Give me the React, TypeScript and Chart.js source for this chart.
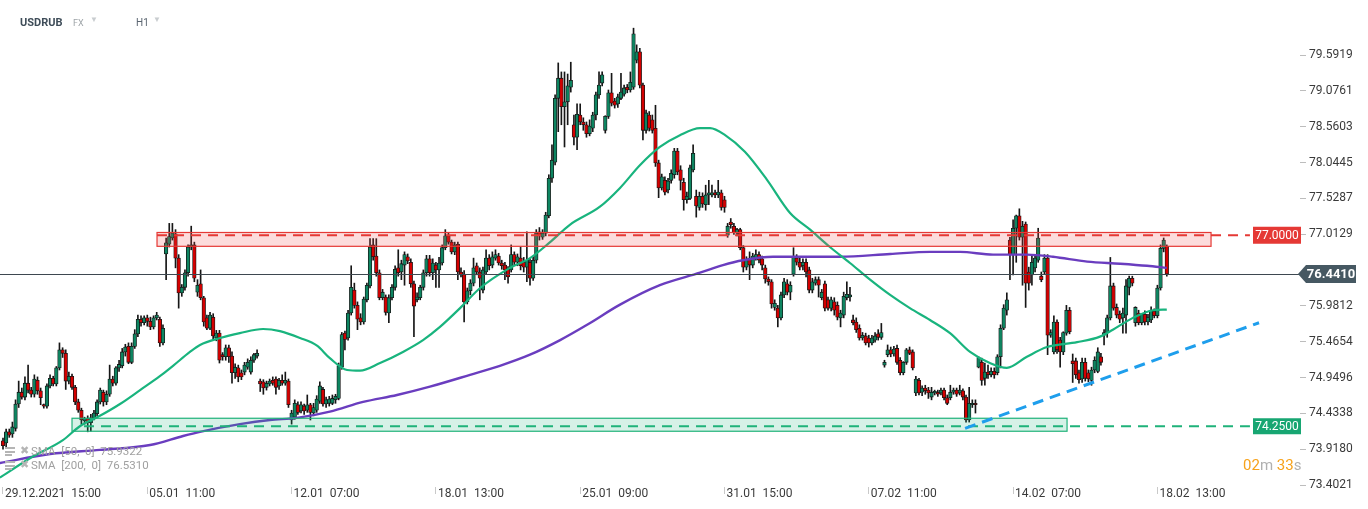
import React, { useEffect, useRef } from "react";
import { Chart, registerables } from "chart.js";

Chart.register(...registerables);

// [open, high, low, close] — H1 candles, 10 per trading day
type Candle = [number, number, number, number];

const week1: Candle[] = [
  [74.04, 74.08, 73.92, 73.97], [74.01, 74.21, 73.95, 74.17], [74.17, 74.21, 74.09, 74.12], [74.14, 74.31, 74.09, 74.24],
  [74.22, 74.63, 74.18, 74.57], [74.57, 74.90, 74.52, 74.74], [74.74, 74.80, 74.64, 74.67], [74.67, 74.96, 74.63, 74.87],
  [74.87, 75.13, 74.73, 74.77], [74.77, 74.81, 74.67, 74.71], [74.71, 74.99, 74.67, 74.93], [74.91, 74.96, 74.71, 74.76],
  [74.76, 74.80, 74.56, 74.66], [74.56, 74.57, 74.51, 74.54], [74.54, 74.86, 74.51, 74.83], [74.83, 74.99, 74.80, 74.94],
  [74.94, 74.97, 74.83, 74.86], [74.86, 75.11, 74.83, 75.09], [75.09, 75.45, 75.06, 75.35], [75.35, 75.38, 75.24, 75.30],
  [75.30, 75.35, 74.78, 74.90], [74.90, 75.03, 74.86, 74.97], [74.97, 75.00, 74.78, 74.81], [74.81, 74.84, 74.56, 74.60],
  [74.60, 74.64, 74.45, 74.48], [74.48, 74.51, 74.28, 74.34], [74.33, 74.38, 74.28, 74.36], [74.36, 74.40, 74.17, 74.30],
  [74.30, 74.42, 74.18, 74.37], [74.37, 74.48, 74.34, 74.44], [74.43, 74.63, 74.40, 74.60], [74.60, 74.80, 74.57, 74.77],
  [74.74, 74.77, 74.54, 74.60], [74.60, 74.76, 74.56, 74.71], [74.71, 75.13, 74.68, 74.93], [74.93, 74.97, 74.83, 74.87],
  [74.87, 75.11, 74.84, 75.09], [75.09, 75.20, 75.04, 75.14], [75.12, 75.37, 75.09, 75.32], [75.32, 75.43, 75.26, 75.39],
  [75.40, 75.45, 75.15, 75.17], [75.17, 75.45, 75.15, 75.40], [75.40, 75.64, 75.37, 75.58], [75.58, 75.85, 75.54, 75.79],
  [75.79, 75.84, 75.69, 75.74], [75.74, 75.84, 75.71, 75.81],
];

const week2: Candle[] = [
  [75.81, 75.85, 75.69, 75.76], [75.76, 75.82, 75.64, 75.68], [75.68, 75.84, 75.65, 75.81], [75.81, 75.89, 75.78, 75.85],
  [75.79, 75.82, 75.40, 75.45], [75.45, 75.71, 75.42, 75.66], [76.73, 76.96, 76.36, 76.89], [76.87, 77.17, 76.83, 76.98],
  [76.96, 77.17, 76.93, 77.03], [77.02, 77.08, 76.53, 76.67], [76.67, 76.72, 75.95, 76.17], [76.17, 76.29, 76.12, 76.25],
  [76.25, 76.50, 76.21, 76.46], [76.46, 76.86, 76.41, 76.83], [76.83, 77.13, 76.79, 76.86], [76.86, 76.90, 76.33, 76.38],
  [76.18, 76.36, 76.12, 76.28], [76.30, 76.50, 76.07, 76.10], [76.10, 76.12, 75.69, 75.75], [75.81, 75.85, 75.64, 75.66],
  [75.66, 75.89, 75.64, 75.85], [75.82, 75.87, 75.49, 75.55], [75.52, 75.63, 75.48, 75.59], [75.59, 75.63, 75.16, 75.20],
  [75.28, 75.31, 75.20, 75.25], [75.25, 75.42, 75.20, 75.38], [75.38, 75.42, 75.17, 75.25], [75.26, 75.32, 74.87, 75.02],
  [75.02, 75.15, 74.94, 75.10], [75.09, 75.13, 74.89, 74.96], [75.02, 75.06, 74.92, 74.96], [75.03, 75.17, 74.99, 75.13],
  [75.10, 75.22, 75.07, 75.17], [75.03, 75.25, 75.00, 75.20], [75.20, 75.30, 75.17, 75.28], [75.26, 75.35, 75.23, 75.30],
  [74.90, 74.93, 74.75, 74.86], [74.89, 74.92, 74.71, 74.80], [74.81, 74.90, 74.77, 74.87], [74.86, 74.93, 74.83, 74.90],
  [74.91, 74.96, 74.84, 74.87], [74.93, 74.96, 74.71, 74.81], [74.83, 74.94, 74.78, 74.91], [74.91, 74.99, 74.84, 74.87],
  [74.87, 75.03, 74.84, 74.91], [74.90, 74.93, 74.52, 74.56],
];

const week3: Candle[] = [
  [74.34, 74.48, 74.28, 74.44], [74.38, 74.63, 74.35, 74.58], [74.56, 74.60, 74.42, 74.45], [74.47, 74.60, 74.44, 74.56],
  [74.54, 74.57, 74.42, 74.47], [74.48, 74.70, 74.45, 74.56], [74.56, 74.58, 74.34, 74.45], [74.44, 74.58, 74.40, 74.52],
  [74.48, 74.69, 74.45, 74.64], [74.61, 74.89, 74.58, 74.83], [74.78, 74.81, 74.54, 74.57], [74.57, 74.67, 74.52, 74.63],
  [74.58, 74.68, 74.54, 74.64], [74.58, 74.70, 74.56, 74.65], [74.63, 74.71, 74.58, 74.68], [74.65, 75.16, 74.63, 75.12],
  [75.10, 75.60, 75.07, 75.57], [75.59, 75.62, 75.35, 75.50], [75.52, 75.92, 75.49, 75.88], [75.88, 76.56, 75.85, 76.25],
  [76.21, 76.31, 75.95, 75.99], [75.99, 76.04, 75.64, 75.79], [75.81, 75.87, 75.71, 75.75], [75.75, 76.11, 75.72, 76.08],
  [76.07, 76.31, 76.04, 76.28], [76.27, 76.95, 76.24, 76.83], [76.86, 76.95, 76.64, 76.69], [76.70, 76.95, 76.41, 76.46],
  [76.46, 76.50, 76.07, 76.10], [76.10, 76.22, 76.07, 76.18], [76.11, 76.14, 75.85, 75.89], [75.88, 76.14, 75.74, 76.10],
  [76.10, 76.29, 76.07, 76.25], [76.25, 76.56, 76.21, 76.51], [76.53, 76.79, 76.41, 76.46], [76.47, 76.64, 76.36, 76.59],
  [76.57, 76.76, 76.28, 76.72], [76.69, 76.73, 76.59, 76.63], [76.61, 76.66, 76.25, 76.30], [76.30, 76.34, 75.54, 75.98],
  [76.07, 76.17, 76.04, 76.11], [76.10, 76.28, 76.07, 76.25], [76.25, 76.50, 76.21, 76.46], [76.46, 76.71, 76.41, 76.66],
  [76.66, 76.71, 76.41, 76.46], [76.46, 76.66, 76.36, 76.60],
];

const week4: Candle[] = [
  [76.57, 76.61, 76.25, 76.50], [76.50, 76.68, 76.25, 76.60], [76.60, 76.86, 76.57, 76.82], [76.82, 77.08, 76.79, 76.99],
  [76.99, 77.03, 76.87, 76.90], [76.90, 76.93, 76.73, 76.76], [76.76, 76.90, 76.72, 76.86], [76.87, 76.90, 76.36, 76.47],
  [76.47, 76.53, 76.40, 76.43], [76.44, 76.49, 75.75, 76.04], [76.04, 76.24, 76.01, 76.20], [76.20, 76.36, 76.14, 76.31],
  [76.31, 76.67, 76.27, 76.53], [76.56, 76.60, 76.43, 76.47], [76.47, 76.53, 76.07, 76.38], [76.21, 76.54, 76.17, 76.50],
  [76.47, 76.79, 76.44, 76.67], [76.67, 76.72, 76.50, 76.56], [76.57, 76.76, 76.53, 76.69], [76.67, 76.79, 76.64, 76.72],
  [76.70, 76.74, 76.57, 76.60], [76.60, 76.64, 76.51, 76.56], [76.57, 76.61, 76.36, 76.50], [76.51, 76.55, 76.31, 76.40],
  [76.50, 76.86, 76.47, 76.72], [76.72, 76.76, 76.57, 76.61], [76.61, 76.73, 76.56, 76.69], [76.67, 76.83, 76.50, 76.56],
  [76.61, 76.68, 76.47, 76.54], [76.54, 77.05, 76.33, 76.64], [76.61, 76.66, 76.28, 76.38], [76.38, 76.69, 76.35, 76.64],
  [76.64, 77.08, 76.60, 77.03], [77.05, 77.11, 76.93, 76.99], [76.97, 77.08, 76.94, 77.03], [77.03, 77.33, 76.99, 77.29],
  [77.28, 77.87, 77.25, 77.82], [77.82, 78.30, 77.76, 78.08], [78.05, 79.02, 78.01, 78.97], [78.97, 79.48, 78.49, 79.26],
  [79.26, 79.35, 78.59, 78.85], [78.85, 79.35, 78.27, 78.92], [78.92, 79.32, 78.59, 79.15], [79.13, 79.49, 79.06, 79.23],
  [78.59, 78.73, 78.30, 78.41], [78.41, 78.89, 78.23, 78.74],
];

const week5: Candle[] = [
  [78.73, 78.89, 78.59, 78.63], [78.63, 78.69, 78.51, 78.59], [78.59, 78.63, 78.41, 78.46], [78.46, 78.66, 78.43, 78.57],
  [78.54, 78.77, 78.49, 78.73], [78.73, 79.06, 78.66, 79.02], [79.02, 79.35, 78.97, 79.16], [79.19, 79.35, 79.15, 79.31],
  [78.51, 78.72, 78.47, 78.71], [78.71, 79.09, 78.68, 79.05], [79.05, 79.33, 78.86, 78.90], [78.93, 78.97, 78.83, 78.87],
  [78.89, 79.03, 78.84, 78.99], [78.97, 79.33, 78.95, 79.06], [79.03, 79.16, 79.00, 79.12], [79.13, 79.17, 79.05, 79.09],
  [79.09, 79.35, 79.06, 79.20], [79.13, 79.98, 79.10, 79.90], [79.52, 79.74, 79.48, 79.64], [79.64, 79.69, 79.12, 79.16],
  [79.16, 79.19, 78.37, 78.51], [78.51, 78.80, 78.47, 78.76], [78.73, 78.78, 78.50, 78.54], [78.66, 78.73, 78.47, 78.51],
  [78.54, 78.87, 77.99, 78.04], [78.04, 78.08, 77.54, 77.68], [77.68, 77.88, 77.65, 77.84], [77.79, 77.84, 77.58, 77.62],
  [77.65, 77.82, 77.61, 77.78], [77.79, 77.94, 77.75, 77.89], [77.87, 78.25, 77.82, 78.21], [78.21, 78.25, 77.87, 77.91],
  [77.94, 78.00, 77.65, 77.79], [77.76, 77.82, 77.36, 77.51], [77.51, 77.62, 77.46, 77.56], [77.53, 78.01, 77.51, 77.97],
  [77.94, 78.30, 77.91, 78.18], [77.56, 77.65, 77.26, 77.42], [77.40, 77.62, 77.36, 77.56], [77.56, 77.61, 77.40, 77.45],
  [77.44, 77.72, 77.36, 77.58], [77.58, 77.79, 77.44, 77.61], [77.58, 77.72, 77.55, 77.61], [77.61, 77.65, 77.54, 77.58],
  [77.58, 77.79, 77.54, 77.62], [77.61, 77.65, 77.36, 77.40],
];

const week6: Candle[] = [
  [77.51, 77.56, 77.33, 77.40], [77.00, 77.17, 76.97, 77.13], [77.19, 77.24, 77.10, 77.15], [77.13, 77.17, 77.01, 77.04],
  [77.03, 77.10, 76.99, 77.08], [77.08, 77.10, 76.79, 76.82], [76.82, 76.85, 76.47, 76.54], [76.54, 76.69, 76.50, 76.64],
  [76.67, 76.76, 76.36, 76.57], [76.57, 76.74, 76.53, 76.70], [76.67, 76.79, 76.64, 76.72], [76.72, 76.76, 76.60, 76.64],
  [76.66, 76.70, 76.50, 76.57], [76.53, 76.57, 76.31, 76.37], [76.37, 76.40, 76.28, 76.33], [76.33, 76.36, 75.95, 76.01],
  [75.96, 76.07, 75.92, 76.02], [75.95, 75.99, 75.68, 75.81], [75.81, 76.18, 75.78, 76.14], [76.14, 76.38, 76.10, 76.33],
  [76.30, 76.36, 76.14, 76.18], [76.18, 76.33, 76.07, 76.28], [76.44, 76.82, 76.41, 76.69], [76.67, 76.72, 76.57, 76.61],
  [76.61, 76.67, 76.50, 76.54], [76.56, 76.66, 76.50, 76.61], [76.61, 76.66, 76.40, 76.47], [76.50, 76.54, 76.17, 76.21],
  [76.21, 76.38, 76.17, 76.33], [76.31, 76.40, 76.28, 76.36], [76.36, 76.40, 76.11, 76.28], [76.10, 76.22, 76.07, 76.18],
  [76.30, 76.34, 75.91, 75.95], [76.07, 76.11, 75.92, 75.95], [75.95, 76.11, 75.91, 76.07], [76.04, 76.10, 75.85, 75.92],
  [75.99, 76.04, 75.78, 75.82], [75.81, 75.92, 75.68, 75.88], [75.85, 76.18, 75.81, 76.12], [76.10, 76.33, 76.07, 76.15],
  [76.11, 76.25, 76.05, 76.14], [75.78, 75.85, 75.71, 75.74], [75.75, 75.81, 75.60, 75.64], [75.66, 75.71, 75.49, 75.52],
  [75.52, 75.60, 75.49, 75.56], [75.55, 75.59, 75.42, 75.45],
];

const week7: Candle[] = [
  [75.52, 75.56, 75.39, 75.45], [75.45, 75.56, 75.42, 75.52], [75.49, 75.60, 75.46, 75.55], [75.58, 75.64, 75.49, 75.53],
  [75.53, 75.73, 75.50, 75.60], [75.13, 75.20, 75.10, 75.17], [75.28, 75.42, 75.25, 75.35], [75.35, 75.39, 75.25, 75.29],
  [75.29, 75.40, 75.26, 75.36], [75.37, 75.42, 75.14, 75.17], [75.20, 75.24, 74.99, 75.02], [75.02, 75.18, 74.99, 75.17],
  [75.17, 75.37, 75.14, 75.35], [75.35, 75.39, 75.28, 75.30], [75.32, 75.35, 75.06, 75.09], [74.73, 74.97, 74.69, 74.93],
  [74.91, 74.94, 74.70, 74.73], [74.74, 74.83, 74.69, 74.80], [74.80, 74.84, 74.71, 74.76], [74.77, 74.81, 74.65, 74.73],
  [74.67, 74.81, 74.63, 74.74], [74.73, 74.77, 74.70, 74.74], [74.74, 74.77, 74.68, 74.71], [74.73, 74.80, 74.70, 74.77],
  [74.77, 74.80, 74.63, 74.66], [74.66, 74.70, 74.56, 74.58], [74.66, 74.84, 74.63, 74.74], [74.74, 74.80, 74.71, 74.77],
  [74.77, 74.80, 74.68, 74.71], [74.73, 74.84, 74.70, 74.77], [74.76, 74.79, 74.63, 74.67], [74.67, 74.70, 74.31, 74.34],
  [74.34, 74.81, 74.31, 74.58], [74.56, 74.63, 74.52, 74.58], [74.58, 74.63, 74.44, 74.56], [75.10, 75.25, 75.09, 75.24],
  [75.17, 75.23, 74.84, 74.91], [74.94, 75.16, 74.84, 75.03], [75.03, 75.13, 74.94, 74.99], [74.99, 75.09, 74.96, 75.04],
  [75.04, 75.09, 74.94, 74.99], [75.02, 75.28, 74.99, 75.25], [75.25, 75.71, 75.09, 75.66], [75.66, 76.00, 75.64, 75.95],
  [75.92, 76.17, 75.85, 76.07], [76.93, 76.97, 76.36, 76.72],
];

const week8: Candle[] = [
  [76.72, 77.22, 76.43, 77.10], [77.10, 77.29, 76.61, 77.28], [77.28, 77.38, 76.93, 76.97], [76.97, 77.20, 76.28, 77.13],
  [77.16, 77.19, 75.96, 76.31], [76.47, 76.54, 76.21, 76.31], [76.43, 76.72, 76.28, 76.61], [76.53, 76.72, 76.47, 76.67],
  [76.64, 77.10, 76.61, 76.96], [76.41, 76.47, 76.33, 76.36], [76.47, 76.72, 76.44, 76.67], [76.67, 76.72, 75.28, 75.56],
  [75.56, 75.64, 75.53, 75.60], [75.32, 75.84, 75.29, 75.75], [75.75, 75.78, 75.30, 75.35], [75.49, 75.53, 75.10, 75.32],
  [75.32, 75.61, 75.28, 75.60], [75.59, 75.99, 75.56, 75.92], [75.92, 75.96, 75.58, 75.61], [75.19, 75.29, 74.88, 75.15],
  [75.19, 75.23, 74.94, 74.99], [75.02, 75.06, 74.87, 74.92], [74.93, 75.23, 74.88, 75.17], [75.17, 75.23, 74.90, 74.94],
  [75.02, 75.06, 74.89, 74.93], [74.91, 75.10, 74.84, 75.06], [75.06, 75.25, 75.02, 75.20], [75.04, 75.38, 75.02, 75.32],
  [75.25, 75.30, 75.13, 75.17], [75.56, 75.64, 75.42, 75.60], [75.60, 75.85, 75.53, 75.81], [75.81, 76.68, 75.78, 76.27],
  [76.27, 76.31, 75.92, 75.95], [75.96, 76.01, 75.81, 75.85], [75.86, 75.91, 75.74, 75.79], [75.81, 75.95, 75.59, 75.88],
  [75.85, 76.36, 75.59, 76.27], [76.25, 76.41, 76.14, 76.38], [76.38, 76.41, 76.27, 76.31], [75.74, 75.97, 75.69, 75.96],
  [75.88, 75.92, 75.71, 75.74], [75.74, 75.87, 75.71, 75.86], [75.86, 75.91, 75.71, 75.75], [75.75, 75.86, 75.71, 75.82],
  [75.78, 75.97, 75.74, 75.92], [75.91, 75.94, 75.81, 75.84],
];

const week9: Candle[] = [
  [75.84, 76.28, 75.81, 76.24], [76.24, 76.86, 76.21, 76.81], [76.81, 76.96, 76.76, 76.93], [76.84, 76.86, 76.41, 76.441],
];

// x-axis (candle index) tick positions and labels
const xTickIdx = [0, 46, 92, 138, 184, 230, 276, 322, 368];
const xTickLabels = [
  "29.12.2021  15:00", "05.01  11:00", "12.01  07:00", "18.01  13:00", "25.01  09:00",
  "31.01  15:00", "07.02  11:00", "14.02  07:00", "18.02  13:00",
];
const yTickValues = [79.5919, 79.0761, 78.5603, 78.0445, 77.5287, 77.0129, 75.9812, 75.4654, 74.9496, 74.4338, 73.918, 73.4021];

// indicator readings: [candle index, value]
const sma50: [number, number][] = [
  [-1, 73.51], [8.6, 73.79], [19.1, 74.05], [24.5, 74.25], [30.9, 74.4], [37.3, 74.57], [43.7, 74.77], [50, 74.97],
  [54.2, 75.12], [59.6, 75.32], [62.8, 75.42], [69.2, 75.52], [75.5, 75.59], [82.9, 75.65], [88.3, 75.62], [94.7, 75.52],
  [100.1, 75.41], [104.2, 75.23], [109.7, 75.06], [113.8, 75.05], [120.2, 75.16], [127.5, 75.32], [133.9, 75.49],
  [139.3, 75.68], [145.7, 75.95], [152.1, 76.24], [161.6, 76.53], [168, 76.67], [174.4, 76.9], [180.7, 77.15],
  [190.3, 77.41], [196.7, 77.68], [203.1, 78.01], [209.4, 78.27], [215.8, 78.44], [222.2, 78.54], [225.4, 78.54],
  [230.2, 78.44], [236.5, 78.2], [243.5, 77.8], [250.9, 77.32], [257.3, 77.08], [263.6, 76.83], [270, 76.6],
  [276.4, 76.36], [282.8, 76.14], [289.1, 75.95], [295.5, 75.78], [301.9, 75.59], [308.3, 75.32], [314.6, 75.16],
  [320, 75.09], [326.4, 75.25], [332.8, 75.39], [342.4, 75.46], [349.7, 75.54], [353.8, 75.64], [360.2, 75.81],
  [366.6, 75.92], [371, 75.93],
];
const sma200: [number, number][] = [
  [-1, 73.72], [15, 73.85], [30.9, 73.91], [46.9, 73.98], [57.4, 74.11], [62.8, 74.17], [75.5, 74.28], [85.1, 74.34],
  [93.7, 74.37], [104.2, 74.46], [114.8, 74.6], [125.6, 74.7], [136.1, 74.82], [148.9, 74.99], [158.4, 75.12],
  [168, 75.28], [177.6, 75.49], [186.2, 75.71], [196.7, 76.0], [209.4, 76.28], [222.2, 76.46], [229.5, 76.57],
  [235.9, 76.64], [245.5, 76.69], [254.1, 76.69], [266.8, 76.69], [282.8, 76.73], [295.5, 76.76], [305.1, 76.76],
  [315.6, 76.72], [326.4, 76.72], [334.7, 76.69], [345.6, 76.62], [356.1, 76.59], [364.7, 76.56], [371, 76.53],
];

const lastPrice = 76.441;
const resistanceLevel = 77.0;
const supportLevel = 74.25;
const resistanceZone = { from: 49.1, to: 385.1, top: 77.039, bottom: 76.84 };
const supportZone = { from: 22.0, to: 339.2, top: 74.365, bottom: 74.178 };
const levelLineEnd = 397.5;
const trendLine = { x: [306.7, 400.4], y: [74.22, 75.74] };

const UP = "#0e8561";
const DOWN = "#d40000";
const OUTLINE = "#161616";

const candles: Candle[] = [...week1, ...week2, ...week3, ...week4, ...week5, ...week6, ...week7, ...week8, ...week9];

function badge(ctx: CanvasRenderingContext2D, x1: number, x2: number, yc: number, h: number, fill: string, text: string, font: string, arrow: boolean) {
  ctx.save();
  ctx.fillStyle = fill;
  ctx.beginPath();
  if (arrow) {
    ctx.moveTo(x1, yc);
    ctx.lineTo(x1 + 8, yc - h / 2);
    ctx.lineTo(x2, yc - h / 2);
    ctx.lineTo(x2, yc + h / 2);
    ctx.lineTo(x1 + 8, yc + h / 2);
    ctx.closePath();
  } else {
    ctx.rect(x1, yc - h / 2, x2 - x1, h);
  }
  ctx.fill();
  ctx.fillStyle = "#ffffff";
  ctx.font = font;
  ctx.textAlign = "center";
  ctx.textBaseline = "middle";
  ctx.fillText(text, arrow ? (x1 + 8 + x2) / 2 : (x1 + x2) / 2, yc + 0.5);
  ctx.restore();
}

const overlayPlugin = {
  id: "overlay",
  afterDatasetsDraw(chart: any) {
    const { ctx, scales } = chart;
    const x = scales.x;
    const y = scales.y;
    ctx.save();
    // resistance zone
    let x1 = x.getPixelForValue(resistanceZone.from);
    let x2 = x.getPixelForValue(resistanceZone.to);
    let y1 = y.getPixelForValue(resistanceZone.top);
    let y2 = y.getPixelForValue(resistanceZone.bottom);
    ctx.fillStyle = "rgba(240,80,80,0.2)";
    ctx.fillRect(x1, y1, x2 - x1, y2 - y1);
    ctx.strokeStyle = "#e53935";
    ctx.lineWidth = 1.2;
    ctx.strokeRect(x1, y1, x2 - x1, y2 - y1);
    ctx.setLineDash([10, 7]);
    ctx.lineWidth = 2;
    ctx.beginPath();
    ctx.moveTo(x1, y.getPixelForValue(resistanceLevel));
    ctx.lineTo(x.getPixelForValue(levelLineEnd), y.getPixelForValue(resistanceLevel));
    ctx.stroke();
    ctx.setLineDash([]);

    // support zone
    x1 = x.getPixelForValue(supportZone.from);
    x2 = x.getPixelForValue(supportZone.to);
    y1 = y.getPixelForValue(supportZone.top);
    y2 = y.getPixelForValue(supportZone.bottom);
    ctx.fillStyle = "rgba(30,180,120,0.18)";
    ctx.fillRect(x1, y1, x2 - x1, y2 - y1);
    ctx.strokeStyle = "#1fb27a";
    ctx.lineWidth = 1.2;
    ctx.strokeRect(x1, y1, x2 - x1, y2 - y1);
    ctx.setLineDash([10, 7]);
    ctx.lineWidth = 2;
    ctx.beginPath();
    ctx.moveTo(x1 + 12, y.getPixelForValue(supportLevel));
    ctx.lineTo(x.getPixelForValue(levelLineEnd), y.getPixelForValue(supportLevel));
    ctx.stroke();

    // trend line
    ctx.strokeStyle = "#1e9eec";
    ctx.lineWidth = 3;
    ctx.setLineDash([11, 7]);
    ctx.beginPath();
    ctx.moveTo(x.getPixelForValue(trendLine.x[0]), y.getPixelForValue(trendLine.y[0]));
    ctx.lineTo(x.getPixelForValue(trendLine.x[1]), y.getPixelForValue(trendLine.y[1]));
    ctx.stroke();
    ctx.setLineDash([]);

    // last price line
    ctx.strokeStyle = "#3e4850";
    ctx.lineWidth = 1;
    const yl = Math.round(y.getPixelForValue(lastPrice)) + 0.5;
    ctx.beginPath();
    ctx.moveTo(chart.chartArea.left, yl);
    ctx.lineTo(chart.chartArea.right, yl);
    ctx.stroke();
    ctx.restore();
  },
  afterDraw(chart: any) {
    const { ctx, scales, chartArea } = chart;
    const y = scales.y;
    const r = chartArea.right;
    badge(ctx, r - 47, r + 1, y.getPixelForValue(resistanceLevel), 17, "#e53935", resistanceLevel.toFixed(4), "12px Roboto", false);
    badge(ctx, r - 47, r + 1, y.getPixelForValue(supportLevel), 16, "#17a672", supportLevel.toFixed(4), "12px Roboto", false);
    badge(ctx, r - 2, r + 56, y.getPixelForValue(lastPrice), 18, "#465862", lastPrice.toFixed(4), "bold 13px Roboto", true);
  },
};

export default function App() {
  const ref = useRef<HTMLCanvasElement>(null);

  useEffect(() => {
    const canvas = ref.current;
    if (!canvas) return;
    const wicks = candles.map((c, i) => ({ x: i, y: [c[2], c[1]] }));
    const bodies = candles.map((c, i) => ({ x: i, y: [c[0], c[3]] }));
    const colors = candles.map((c) => (c[3] >= c[0] ? UP : DOWN));

    const chart = new Chart(canvas, {
      type: "bar",
      data: {
        datasets: [
          {
            type: "line",
            data: sma50.map(([x, y]) => ({ x, y })),
            borderColor: "#19b47e",
            borderWidth: 2.2,
            pointRadius: 0,
            cubicInterpolationMode: "monotone",
            order: 0,
          } as any,
          {
            type: "line",
            data: sma200.map(([x, y]) => ({ x, y })),
            borderColor: "#6a3dbf",
            borderWidth: 2.4,
            pointRadius: 0,
            cubicInterpolationMode: "monotone",
            order: 1,
          } as any,
          {
            type: "bar",
            data: bodies,
            backgroundColor: colors,
            borderColor: OUTLINE,
            borderWidth: 0.8,
            borderSkipped: false,
            barThickness: 3.6,
            minBarLength: 1.5,
            grouped: false,
            order: 2,
          } as any,
          {
            type: "bar",
            data: wicks,
            backgroundColor: OUTLINE,
            borderWidth: 0,
            barThickness: 1,
            grouped: false,
            order: 3,
          } as any,
        ],
      },
      options: {
        animation: false,
        responsive: false,
        maintainAspectRatio: false,
        devicePixelRatio: 1,
        layout: { padding: 0 },
        plugins: { legend: { display: false }, tooltip: { enabled: false } },
        scales: {
          x: {
            type: "linear",
            min: -0.956,
            max: 413.46,
            offset: false,
            afterBuildTicks: (s: any) => {
              s.ticks = xTickIdx.map((v) => ({ value: v }));
            },
            afterFit: (s: any) => {
              s.height = 22;
              s.paddingLeft = 0;
              s.paddingRight = 0;
            },
            grid: { display: true, drawOnChartArea: false, drawTicks: true, tickLength: 7, color: "#c9c9c9", offset: false },
            border: { display: false },
            ticks: {
              autoSkip: false,
              maxRotation: 0,
              minRotation: 0,
              align: "start",
              padding: -7,
              labelOffset: 2,
              color: "#3a3a3a",
              font: { family: "Roboto", size: 12 },
              callback: (_v: any, i: number) => xTickLabels[i] ?? "",
            },
          },
          y: {
            type: "linear",
            position: "right",
            min: 73.3754,
            max: 80.3856,
            afterBuildTicks: (s: any) => {
              s.ticks = yTickValues.map((v) => ({ value: v }));
            },
            afterFit: (s: any) => {
              s.width = 68;
              s.paddingTop = 0;
              s.paddingBottom = 0;
            },
            grid: { display: true, drawOnChartArea: false, drawTicks: true, tickLength: 6, color: "#bdbdbd" },
            border: { display: false },
            ticks: {
              autoSkip: false,
              padding: 3,
              color: "#3a3a3a",
              font: { family: "Roboto", size: 12 },
              callback: (v: any) => Number(v).toFixed(4),
            },
          },
        },
      },
      plugins: [overlayPlugin],
    } as any);

    return () => chart.destroy();
  }, []);

  const gray = "#a0a0a0";
  const iconLines = (top: number) => (
    <div style={{ position: "absolute", left: 5, top, width: 10, height: 9 }}>
      <div style={{ height: 2, background: "#b5b5b5", marginBottom: 1.5 }} />
      <div style={{ height: 2, background: "#b5b5b5", marginBottom: 1.5 }} />
      <div style={{ height: 2, width: 7, background: "#b5b5b5" }} />
    </div>
  );

  return (
    <div style={{ position: "fixed", left: 0, top: 0, width: 1368, height: 509, background: "#ffffff", fontFamily: "Roboto, sans-serif", overflow: "hidden" }}>
      <canvas ref={ref} width={1368} height={509} style={{ position: "absolute", left: 0, top: 0, width: 1368, height: 509 }} />

      <div style={{ position: "absolute", left: 20, top: 16, fontSize: 11, fontWeight: 700, color: "#3f4d59" }}>USDRUB</div>
      <div style={{ position: "absolute", left: 73, top: 18, fontSize: 9, color: "#9ea4a8" }}>FX</div>
      <div style={{ position: "absolute", left: 90, top: 15, fontSize: 8, color: "#c9cdd0" }}>▼</div>
      <div style={{ position: "absolute", left: 136, top: 17, fontSize: 10, color: "#5a6570" }}>H1</div>
      <div style={{ position: "absolute", left: 153, top: 15, fontSize: 8, color: "#c9cdd0" }}>▼</div>

      {iconLines(447)}
      <div style={{ position: "absolute", left: 20, top: 444, fontSize: 11, color: "#b5b5b5" }}>✖</div>
      <div style={{ position: "absolute", left: 31, top: 444, fontSize: 11.5, color: gray, whiteSpace: "pre" }}>SMA  [50,  0]  75.9322</div>
      {iconLines(461)}
      <div style={{ position: "absolute", left: 20, top: 458, fontSize: 11, color: "#b5b5b5" }}>✖</div>
      <div style={{ position: "absolute", left: 31, top: 458, fontSize: 11.5, color: gray, whiteSpace: "pre" }}>SMA  [200,  0]  76.5310</div>

      <div style={{ position: "absolute", left: 1243, top: 456, fontSize: 15, whiteSpace: "pre" }}>
        <span style={{ color: "#f7a21b" }}>02</span>
        <span style={{ color: "#b0b0b0" }}>m </span>
        <span style={{ color: "#f7a21b" }}>33</span>
        <span style={{ color: "#b0b0b0" }}>s</span>
      </div>
    </div>
  );
}
